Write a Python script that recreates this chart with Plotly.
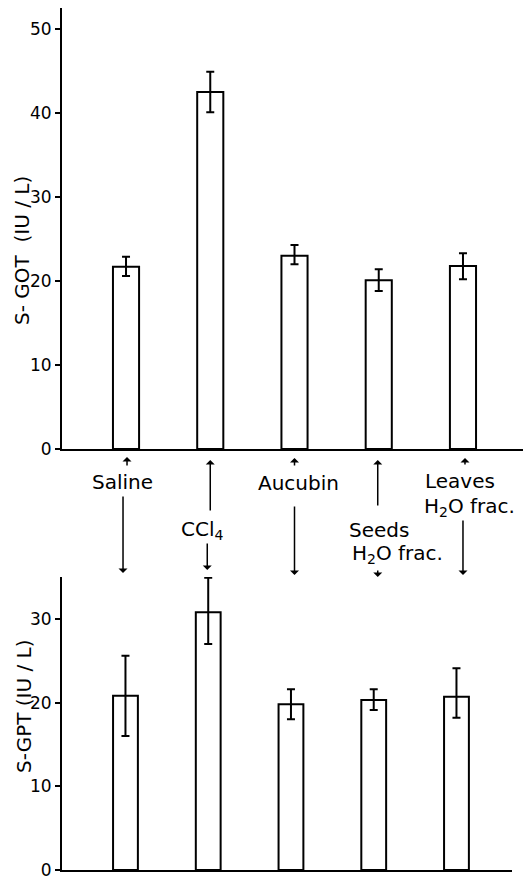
import plotly.graph_objects as go

# ---- data ----
categories = ["Saline", "CCl4", "Aucubin", "Seeds H2O frac.", "Leaves H2O frac."]

got_mean = [21.7, 42.5, 23.0, 20.1, 21.8]
got_err_plus = [1.2, 2.4, 1.3, 1.3, 1.5]
got_err_minus = [1.1, 2.4, 1.0, 1.3, 1.6]

gpt_mean = [20.8, 30.8, 19.8, 20.3, 20.7]
gpt_err_plus = [4.8, 4.1, 1.8, 1.3, 3.4]
gpt_err_minus = [4.8, 3.8, 1.8, 1.2, 2.5]

got_ticks = [0, 10, 20, 30, 40, 50]
gpt_ticks = [0, 10, 20, 30]

# page body adds an 8px offset; size the figure so it fits the 531x876 window
OFF = 8
W, H = 531 - OFF, 876 - OFF
FONT = "DejaVu Sans"


def py(p):
    return min(1.0, max(0.0, (H - (p - OFF)) / H))


def px(p):
    return min(1.0, max(0.0, (p - OFF) / W))


bar_style = dict(color="white", line=dict(color="black", width=2))


def err(plus, minus):
    return dict(type="data", symmetric=False, array=plus, arrayminus=minus,
                color="black", thickness=2, width=4)


fig = go.Figure()
fig.add_trace(go.Bar(x=categories, y=got_mean, error_y=err(got_err_plus, got_err_minus),
                     marker=bar_style, width=0.31, xaxis="x", yaxis="y"))
fig.add_trace(go.Bar(x=categories, y=gpt_mean, error_y=err(gpt_err_plus, gpt_err_minus),
                     marker=bar_style, width=0.30, xaxis="x2", yaxis="y2"))

xcommon = dict(showticklabels=False, ticks="", showline=True, linecolor="black",
               linewidth=2, showgrid=False, zeroline=False, fixedrange=True)
ycommon = dict(ticks="outside", ticklen=5, tickwidth=2, tickcolor="black",
               showline=True, linewidth=2, linecolor="black", showgrid=False,
               zeroline=False, tickfont=dict(family=FONT, size=17, color="black"),
               automargin=False, ticklabeloverflow="allow")

fig.update_layout(
    width=W, height=H, margin=dict(l=0, r=0, t=0, b=0),
    paper_bgcolor="white", plot_bgcolor="white", showlegend=False,
    font=dict(family=FONT, color="black"),
    xaxis=dict(domain=[px(62), px(527)], range=[-0.76, 4.76], anchor="y", **xcommon),
    yaxis=dict(domain=[py(449), py(8)], range=[0, 52.5], tickvals=got_ticks, anchor="x", **ycommon),
    xaxis2=dict(domain=[px(62), px(512)], range=[-0.767, 4.671], anchor="y2", **xcommon),
    yaxis2=dict(domain=[py(870), py(577)], range=[0, 35.0], tickvals=gpt_ticks, anchor="x2", **ycommon),
)

ann = []
# axis titles
ann.append(dict(text="S- GOT  (IU / L)", xref="paper", yref="paper", x=px(22), y=py(251),
                xanchor="center", yanchor="middle",
                textangle=-90, showarrow=False, font=dict(family=FONT, size=20)))
ann.append(dict(text="S-GPT (IU / L)", xref="paper", yref="paper", x=px(24), y=py(706),
                xanchor="center", yanchor="middle",
                textangle=-90, showarrow=False, font=dict(family=FONT, size=20)))

# middle group labels: (category, text, ypix, xshift)
labels = [
    (categories[0], "Saline", 482, -4),
    (categories[1], "CCl<sub>4</sub>", 530, -8),
    (categories[2], "Aucubin", 483, 4),
    (categories[3], "Seeds", 530, 0),
    (categories[3], "H<sub>2</sub>O frac.", 554, 19),
    (categories[4], "Leaves", 481, -3),
    (categories[4], "H<sub>2</sub>O frac.", 507, 7),
]
for c, t, yp, xs in labels:
    ann.append(dict(text=t, xref="x", yref="paper", x=c, y=py(yp), xshift=xs,
                    xanchor="center", yanchor="middle",
                    showarrow=False, font=dict(family=FONT, size=20)))

# arrows: (category, head ypix, tail ypix, xshift)
arrows = [
    (categories[0], 457, 467, 1), (categories[0], 573, 495, -3),
    (categories[1], 460, 512, 0), (categories[1], 570, 542, -3),
    (categories[2], 458, 467, 0), (categories[2], 575, 505, 0),
    (categories[3], 460, 507, -1), (categories[3], 577, 569, -1),
    (categories[4], 458, 466, 2), (categories[4], 575, 519, 0),
]
for c, head, tail, xs in arrows:
    ann.append(dict(text="", xref="x", yref="paper", x=c, y=py(head), xshift=xs,
                    showarrow=True, ax=0, ay=tail - head, arrowhead=1, arrowsize=1,
                    arrowwidth=1.5, arrowcolor="black"))

fig.update_layout(annotations=ann)
fig.write_html("out.html")
